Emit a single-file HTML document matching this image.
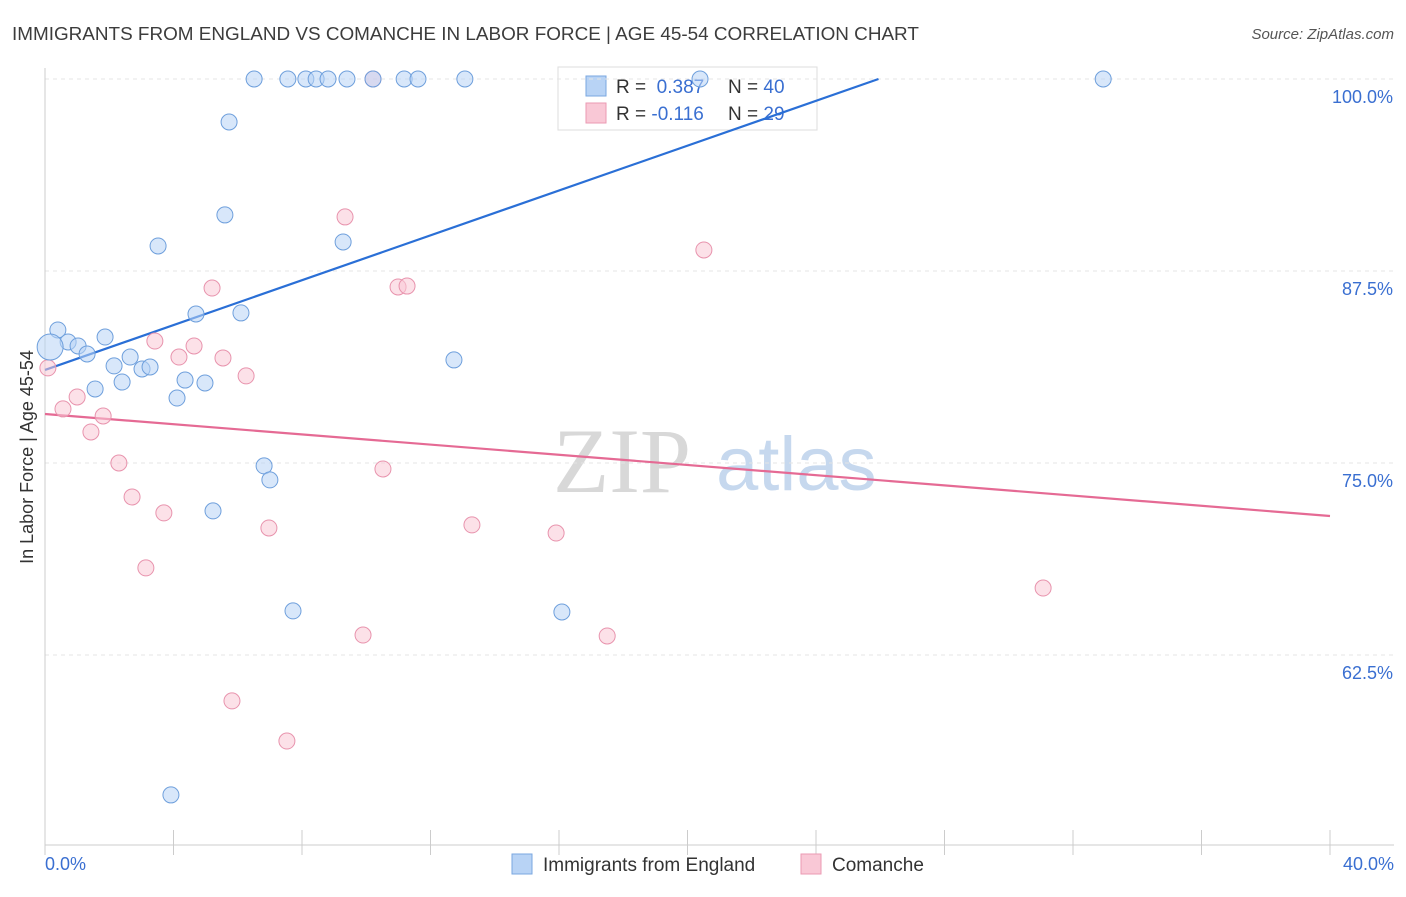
<!DOCTYPE html>
<html><head><meta charset="utf-8"><style>
body{margin:0;background:#fff;font-family:"Liberation Sans",sans-serif}
</style></head><body>
<svg id="chart" width="1406" height="892" xmlns="http://www.w3.org/2000/svg" style="font-family:'Liberation Sans',sans-serif">
<text x="12" y="40" font-size="18.9" fill="#3c3c3c">IMMIGRANTS FROM ENGLAND VS COMANCHE IN LABOR FORCE | AGE 45-54 CORRELATION CHART</text>
<text x="1394" y="39" font-size="15" fill="#555" font-style="italic" text-anchor="end">Source: ZipAtlas.com</text>
<text transform="translate(33,457) rotate(-90)" font-size="18" fill="#333" text-anchor="middle">In Labor Force | Age 45-54</text>
<g><text x="553" y="492" font-size="92" fill="#d8d8d8" font-family="'Liberation Serif',serif">ZIP</text><text x="716" y="490" font-size="76" fill="#c6d8ee">atlas</text></g>
<g>
<rect x="558" y="67" width="259" height="63" fill="#fff" stroke="#ddd"/>
<rect x="586" y="76" width="20" height="20" fill="#b8d3f5" stroke="#7aa7e0"/>
<rect x="586" y="103" width="20" height="20" fill="#f9c8d6" stroke="#eb9ab3"/>
<text x="616" y="93" font-size="19" fill="#333">R = <tspan fill="#3a6fd1">&#160;0.387</tspan><tspan x="728">N = </tspan><tspan fill="#3a6fd1">40</tspan></text>
<text x="616" y="120" font-size="19" fill="#333">R = <tspan fill="#3a6fd1">-0.116</tspan><tspan x="728">N = </tspan><tspan fill="#3a6fd1">29</tspan></text>
</g>
<g id="grid"></g><g id="axes"></g><g id="lines"></g><g id="pts"></g>
<g>
<rect x="512" y="854" width="20" height="20" fill="#b8d3f5" stroke="#7aa7e0"/>
<text x="543" y="871" font-size="19" fill="#333">Immigrants from England</text>
<rect x="801" y="854" width="20" height="20" fill="#f9c8d6" stroke="#eb9ab3"/>
<text x="832" y="871" font-size="19" fill="#333">Comanche</text>
</g>
</svg>
<script>
const blueX=[6.51,7.56,8.12,8.44,8.81,9.40,10.21,11.18,11.61,13.07,20.39,32.94,5.73,5.60,3.52,9.28,0.40,0.72,1.03,1.31,1.87,4.70,6.10,2.65,2.15,3.02,3.27,1.56,2.40,4.36,4.98,4.11,12.73,6.82,7.00,5.23,7.72,16.09,3.92,0.16];
const blueY=[100,100,100,100,100,100,100,100,100,100,100,100,97.20,91.15,89.13,89.39,83.66,82.88,82.62,82.10,83.20,84.70,84.77,81.90,81.32,81.12,81.25,79.82,80.27,80.40,80.21,79.23,81.71,74.81,73.90,71.88,65.37,65.30,53.39,82.55];
const blueR=[8,8,8,8,8,8,8,8,8,8,8,8,8,8,8,8,8,8,8,8,8,8,8,8,8,8,8,8,8,8,8,8,8,8,8,8,8,8,8,13];
const pinkX=[10.21,9.34,20.51,5.20,10.99,11.27,3.42,4.17,4.64,5.54,6.26,0.09,0.56,1.00,1.81,1.43,2.30,2.71,3.70,3.14,6.97,10.52,13.29,15.91,31.07,9.90,17.50,5.82,7.53];
const pinkY=[100,91.02,88.87,86.39,86.46,86.52,82.94,81.90,82.62,81.84,80.67,81.19,78.52,79.30,78.06,77.02,75.00,72.79,71.75,68.17,70.77,74.61,70.97,70.44,66.86,63.80,63.74,59.51,56.90];
const trendIntercept=[81.06,78.19];
const trendSlope=[0.730,-0.166];
const yTicks=[100,87.5,75,62.5];
const yTickLabels=["100.0%","87.5%","75.0%","62.5%"];
const xTickLabels=["0.0%","40.0%"];
const NS="http://www.w3.org/2000/svg";
const X=v=>45+v/40*1285, Y=v=>79+(100-v)*15.36;
function mk(t,a,p){const e=document.createElementNS(NS,t);for(const k in a)e.setAttribute(k,a[k]);document.getElementById(p).appendChild(e);return e;}
yTicks.forEach((t,i)=>{
 const g=mk('line',{x1:45,x2:1394,y1:Y(t),y2:Y(t),stroke:'#e4e4e4','stroke-dasharray':'4,4'},'grid');
 
 
 const l=mk('text',{x:1393,y:Y(t)+24,'font-size':18,fill:'#3a6fd1','text-anchor':'end'},'axes');
 l.textContent=yTickLabels[i];
 
 
});
const ya=mk('line',{x1:45,x2:45,y1:68,y2:845,stroke:'#ccc'},'axes');


const xa=mk('line',{x1:45,x2:1394,y1:845,y2:845,stroke:'#ccc'},'axes');


for(let i=0;i<=10;i++){const t=mk('line',{x1:X(i*4),x2:X(i*4),y1:830,y2:855,stroke:'#ccc'},'axes');
 
 }
[[0,'start',45],[40,'end',1394]].forEach((d,i)=>{const l=mk('text',{x:d[2],y:870,'font-size':18,fill:'#3a6fd1','text-anchor':d[1]},'axes');l.textContent=xTickLabels[i];
 
 });
function pts(xs,ys,rs,fill,stroke,name){xs.forEach((x,i)=>{const c=mk('circle',{cx:X(x),cy:Y(ys[i]),r:rs?rs[i]:8,fill:fill,stroke:stroke,'fill-opacity':0.55,'stroke-width':1},'pts');
 
 });}
pts(pinkX,pinkY,null,'#f9c8d6','#e893ad','comanche-point');
pts(blueX,blueY,blueR,'#b8d3f5','#6e9fdc','england-point');
const bEnd=(100-trendIntercept[0])/trendSlope[0];
const bl=mk('line',{x1:X(0),y1:Y(trendIntercept[0]),x2:X(bEnd),y2:Y(100),stroke:'#2a6fd6','stroke-width':2.2},'lines');


const pl=mk('line',{x1:X(0),y1:Y(trendIntercept[1]),x2:X(40),y2:Y(trendIntercept[1]+trendSlope[1]*40),stroke:'#e56a94','stroke-width':2.2},'lines');


</script>
</body></html>
